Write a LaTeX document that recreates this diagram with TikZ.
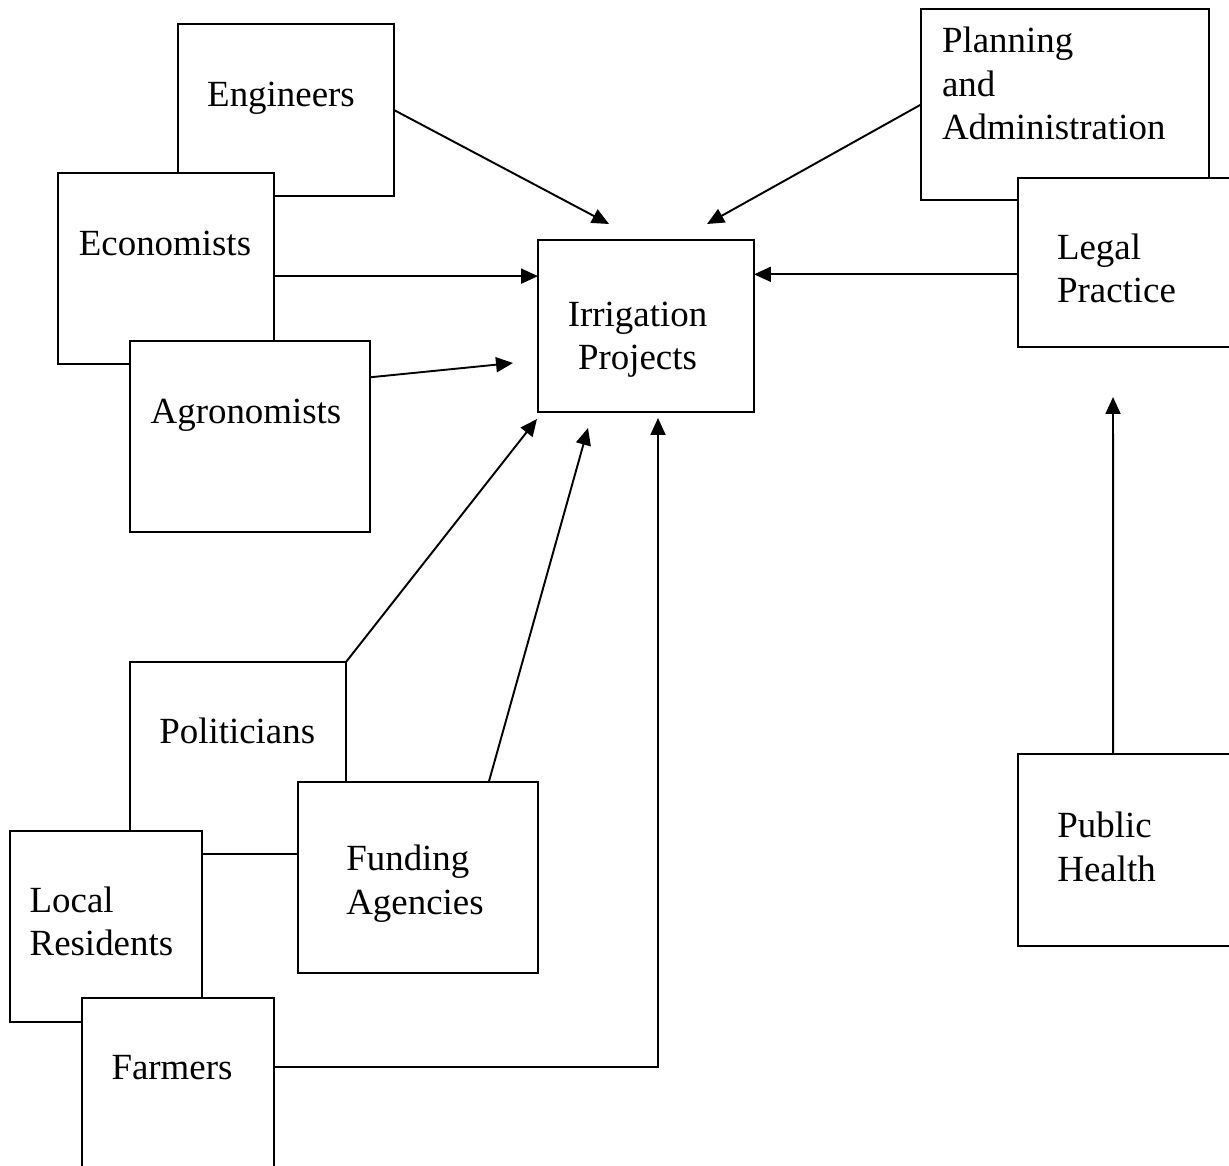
\documentclass[tikz,border=0pt]{standalone}
\usepackage{fontspec}
\setmainfont{Liberation Serif}
\usetikzlibrary{arrows.meta,calc}
\newcommand{\boxfont}{\fontsize{21}{24.8}\selectfont}

\begin{document}
\begin{tikzpicture}[x=0.02cm, y=-0.02cm,
    box/.style={draw, fill=white, line width=1.1pt, inner sep=0pt, outer sep=0pt},
    lbl/.style={font=\boxfont, inner sep=0pt, align=left},
    conn/.style={line width=1.1pt, -{Triangle[length=0.34cm,width=0.3cm]}}]

  % ---- Page / clipping ---------------------------------------
  \fill[white] (0,0) rectangle (1229,1165);
  \path[use as bounding box, clip] (0,0) rectangle (1229,1165);

  % ============================================================
  %  TOP LEFT: engineers, economists, agronomists
  % ============================================================
  \node[box, minimum width=4.32cm, minimum height=3.44cm] (eng) at (286,110) {};
  \node[lbl, anchor=base] (t-eng) at (281,107) {Engineers};
  \node[box, minimum width=4.32cm, minimum height=3.82cm] (econ) at (166,268.5) {};
  \node[lbl, anchor=base] (t-econ) at (165,256) {Economists};
  \node[box, minimum width=4.8cm, minimum height=3.82cm] (agro) at (250,436.5) {};
  \node[lbl, anchor=base] (t-agro) at (246,423) {Agronomists};

  % ============================================================
  %  CENTRE: irrigation projects
  % ============================================================
  \node[box, minimum width=4.32cm, minimum height=3.44cm] (irr) at (646,326) {};
  \node[lbl, align=center, anchor=base] (t-irr) at (637.5,370) {Irrigation\\Projects};

  % ============================================================
  %  RIGHT SIDE: planning, legal practice, public health
  % ============================================================
  \node[box, minimum width=5.76cm, minimum height=3.82cm] (plan) at (1065,104.5) {};
  \node[lbl, anchor=base west] (t-plan) at (941.7,140) {Planning\\and\\Administration};
  \node[box, minimum width=4.64cm, minimum height=3.38cm] (legal) at (1134,262.5) {};
  \node[lbl, anchor=base west] (t-legal) at (1056.7,303) {Legal\\Practice};
  \node[box, minimum width=4.64cm, minimum height=3.84cm] (pub) at (1134,850) {};
  \node[lbl, anchor=base west] (t-pub) at (1057,881) {Public\\Health};

  % ============================================================
  %  BOTTOM LEFT: politicians, funding, residents, farmers
  % ============================================================
  \node[box, minimum width=4.32cm, minimum height=3.84cm] (pol) at (238,758) {};
  \node[lbl, anchor=base] (t-pol) at (237.2,743.4) {Politicians};
  \node[box, minimum width=4.8cm, minimum height=3.82cm] (fund) at (418,877.5) {};
  \node[lbl, anchor=base west] (t-fund) at (346,914) {Funding\\Agencies};
  \node[box, minimum width=3.84cm, minimum height=3.82cm] (local) at (106,926.5) {};
  \node[lbl, anchor=base west] (t-local) at (29.3,955.7) {Local\\Residents};
  \node[box, minimum width=3.84cm, minimum height=3.84cm] (farm) at (178,1094) {};
  \node[lbl, anchor=base] (t-farm) at (172,1079) {Farmers};

  % ---- Connector ends -----------------------------------------
  \coordinate (econ-out)  at ($(econ.north east)!0.54!(econ.south east)$);
  \coordinate (legal-out) at ($(legal.north west)!0.57!(legal.south west)$);
  \coordinate (agro-out)  at ($(agro.north east)!0.19!(agro.south east)$);
  \coordinate (fund-out)  at ($(fund.north west)!0.795!(fund.north east)$);
  \coordinate (farm-out)  at ($(farm.north east)!0.36!(farm.south east)$);
  \coordinate (pub-out)   at ($(pub.north west)!0.41!(pub.north east)$);
  \coordinate (eng-in)  at (609,224);
  \coordinate (plan-in) at (707,224);
  \coordinate (agro-in) at (513,363);
  \coordinate (pol-in)  at (537,419);
  \coordinate (fund-in) at (588,428);
  \coordinate (farm-in) at (658,418);
  \coordinate (pub-in)  at (1113,397);

  % ---- Arrows into irrigation projects ------------------------
  \draw[conn] (eng.east) -- (eng-in);
  \draw[conn] (econ-out) -- (econ-out -| irr.west);
  \draw[conn] (agro-out) -- (agro-in);
  \draw[conn] (plan.west) -- (plan-in);
  \draw[conn] (legal-out) -- (legal-out -| irr.east);
  \draw[conn] (pol.north east) -- (pol-in);
  \draw[conn] (fund-out) -- (fund-in);
  \draw[conn] (farm-out) -| (farm-in);
  % public health into legal practice
  \draw[conn] (pub-out) -- (pub-in);

\end{tikzpicture}
\end{document}
